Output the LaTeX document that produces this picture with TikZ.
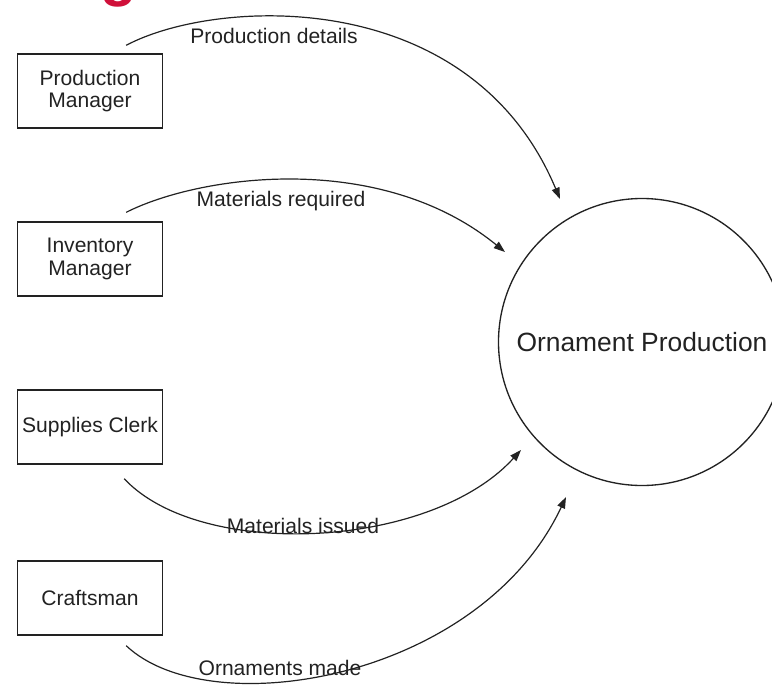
\documentclass[tikz,border=0pt]{standalone}
\usepackage{fontspec}
\setmainfont{Liberation Sans}
\usetikzlibrary{arrows.meta}
\definecolor{gred}{HTML}{D0103A}
\definecolor{ink}{HTML}{222222}
\begin{document}
\begin{tikzpicture}[x=0.75pt,y=-0.75pt,
  ent/.style={draw=ink, line width=1pt, minimum width=108.75pt, minimum height=55.5pt, inner sep=0pt, align=center, text=ink, font=\fontsize{15.8}{17}\selectfont},
  proc/.style={draw=ink, circle, line width=1pt, minimum size=215.25pt, inner sep=0pt, text=ink, font=\fontsize{19.8}{22}\selectfont},
  flow/.style={draw=ink, line width=0.9pt, -{Triangle[length=8.5pt,width=6pt]}},
  lbl/.style={anchor=base, inner sep=0pt, text=ink, font=\fontsize{15.8}{17}\selectfont}]
\useasboundingbox (0,0) rectangle (772,686);
\begin{scope}
\clip (0,0) rectangle (772,686);
\node[anchor=base, inner sep=0pt, text=gred, font=\fontsize{45}{50}\bfseries\selectfont] (g) at (119,-6) {g};

\node[ent] (pm) at (90,91) {Production\\Manager};
\node[ent] (im) at (90,259) {Inventory\\Manager};
\node[ent] (sc) at (90,427) {Supplies Clerk};
\node[ent] (cr) at (90,598) {Craftsman};

\node[proc] (op) at (642,342) {Ornament Production};

\coordinate (t1) at (560,199);
\coordinate (t2) at (505,252);
\coordinate (t3) at (521,450);
\coordinate (t4) at (566,497);

\draw[flow] ([shift={(-37,-8)}]pm.north east) .. controls (215,-2) and (470,-16) .. (t1);
\draw[flow] ([shift={(-37,-9)}]im.north east) .. controls (200,175) and (380,150) .. (t2);
\draw[flow] ([shift={(-39,14)}]sc.south east) .. controls (200,560) and (430,550) .. (t3);
\draw[flow] ([shift={(-37,10)}]cr.south east) .. controls (210,725) and (480,680) .. (t4);

\node[lbl] (l1) at (274,43) {Production details};
\node[lbl] (l2) at (281,206) {Materials required};
\node[lbl] (l3) at (303,533) {Materials issued};
\node[lbl] (l4) at (280,675) {Ornaments made};
\end{scope}
\end{tikzpicture}
\end{document}
